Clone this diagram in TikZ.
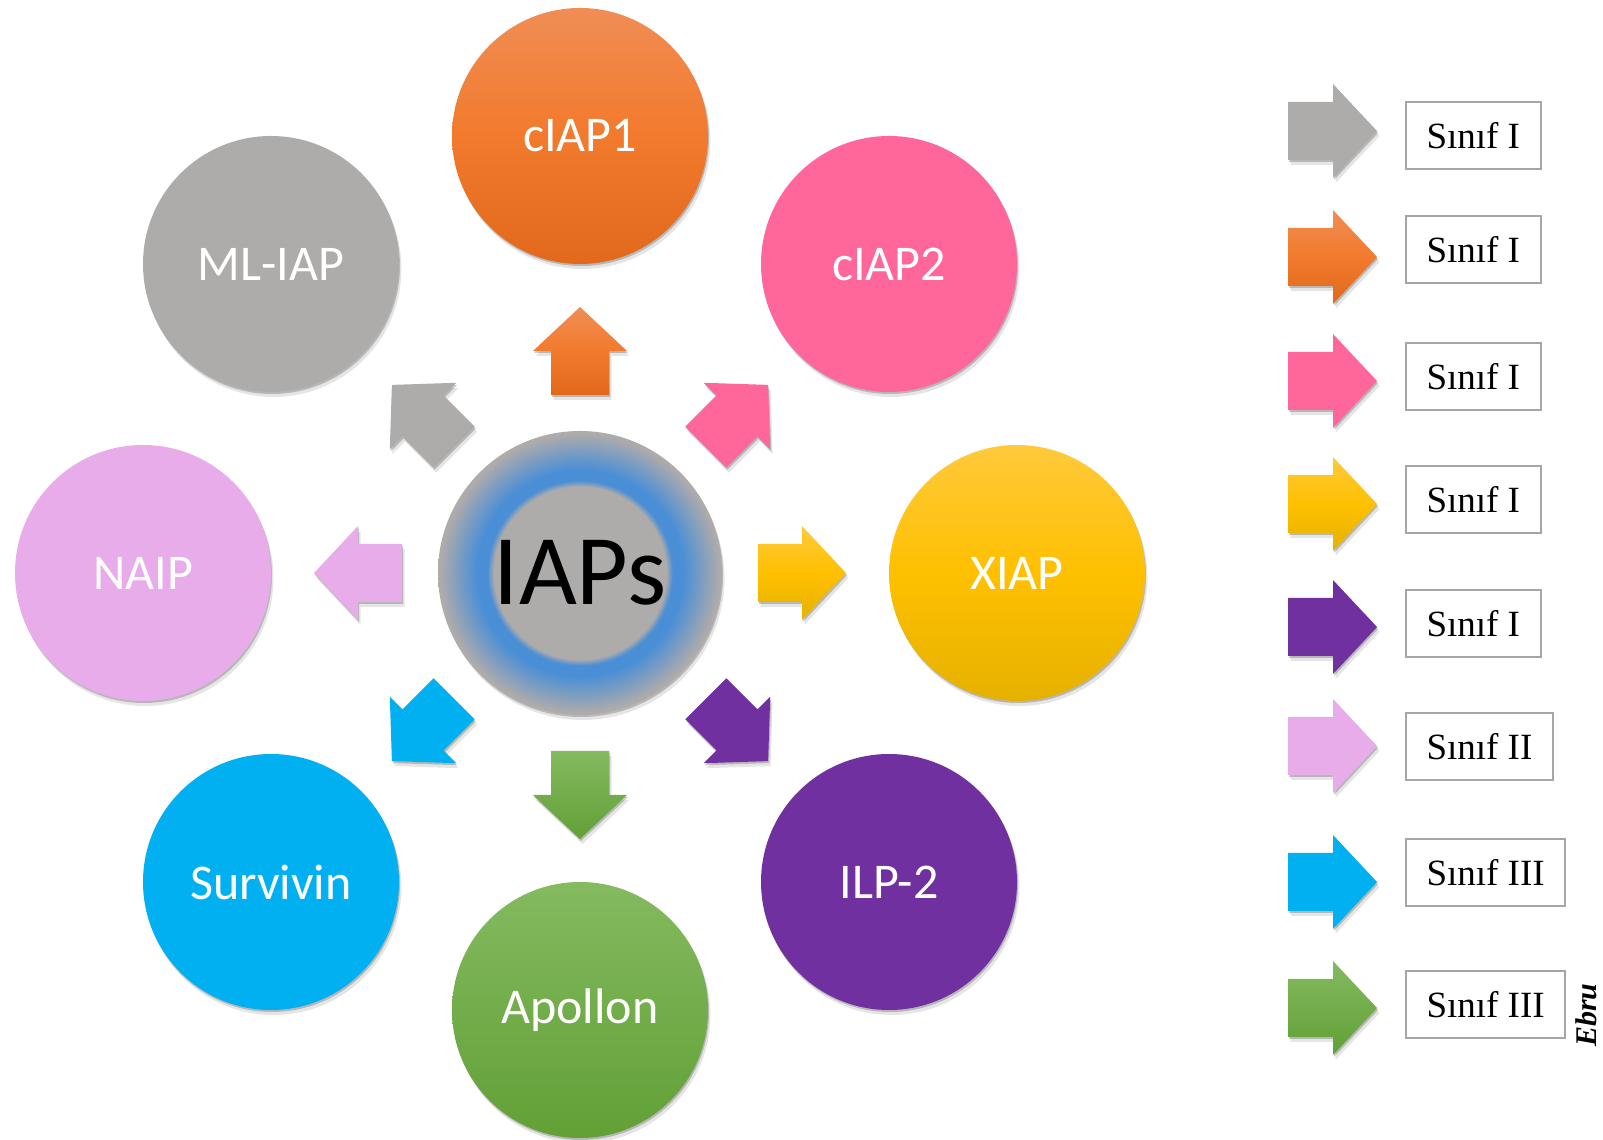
\documentclass[tikz,border=0pt]{standalone}
\usepackage{fontspec}
\setmainfont{Liberation Serif}
\newfontfamily\bubblefont{Carlito}
\usepackage{tikz}
\usepackage{xcolor}
\usetikzlibrary{calc, shadows, positioning}

\definecolor{orangetop}{HTML}{F08D55}
\definecolor{orangemid}{HTML}{F27A2C}
\definecolor{orangebot}{HTML}{E2691C}
\definecolor{iappink}{HTML}{FF6699}
\definecolor{yellowtop}{HTML}{FFC93C}
\definecolor{yellowmid}{HTML}{FFC000}
\definecolor{yellowbot}{HTML}{E5B100}
\definecolor{iappurple}{HTML}{7030A0}
\definecolor{greentop}{HTML}{84BA60}
\definecolor{greenbot}{HTML}{62A036}
\definecolor{iapcyan}{HTML}{00B0F0}
\definecolor{iaplavender}{HTML}{E8ACEA}
\definecolor{iapgray}{HTML}{AEABAB}
\definecolor{glowblue}{HTML}{4A8FD6}
\definecolor{boxgray}{HTML}{A6A6A6}

\pgfdeclareradialshading{iapglow}{\pgfpoint{0bp}{0bp}}{%
  color(0bp)=(iapgray); color(15.2bp)=(iapgray); color(16.3bp)=(glowblue);
  color(18.2bp)=(glowblue); color(24.6bp)=(iapgray); color(50bp)=(iapgray)}

\tikzset{
  softshadow/.style={drop shadow={shadow xshift=1pt, shadow yshift=-2pt, opacity=.2, fill=black},
                     drop shadow={shadow xshift=2.5pt, shadow yshift=-5pt, opacity=.1, fill=black}},
  orangefill/.style={top color=orangetop, bottom color=orangebot, middle color=orangemid},
  pinkfill/.style={fill=iappink},
  yellowfill/.style={top color=yellowtop, bottom color=yellowbot, middle color=yellowmid},
  purplefill/.style={fill=iappurple},
  greenfill/.style={top color=greentop, bottom color=greenbot},
  cyanfill/.style={fill=iapcyan},
  lavenderfill/.style={fill=iaplavender},
  grayfill/.style={fill=iapgray},
  bubble/.style={circle, minimum size=256pt, inner sep=0pt, text=white,
                 font=\bubblefont\fontsize{50}{50}\selectfont, softshadow},
  legbox/.style={draw=boxgray, line width=2pt, fill=white, minimum height=67pt,
                 inner xsep=20.5pt, anchor=west, font=\fontsize{37}{37}\selectfont}
}

\begin{document}
\begin{tikzpicture}[x=1pt, y=1pt]
  \useasboundingbox (0,0) rectangle (1603,1140);

  % === CENTRE ===
  \node[circle, minimum size=284pt, inner sep=0pt, shade, shading=iapglow, softshadow,
        font=\bubblefont\fontsize{100}{100}\selectfont] (c) at (580,567) {IAPs};

  % === RING: 8 circles + block arrows ===
  \foreach \a/\nm/\txt/\sty in {90/ciap1/cIAP1/orangefill, 45/ciap2/cIAP2/pinkfill,
      0/xiap/XIAP/yellowfill, -45/ilp2/ILP-2/purplefill, -90/apollon/Apollon/greenfill,
      -135/survivin/Survivin/cyanfill, 180/naip/NAIP/lavenderfill, 135/mliap/ML-IAP/grayfill} {
    \node[bubble, \sty] (\nm) at ($(c)+(\a:437)$) {\txt};
    \path[softshadow, \sty] ($(c)+(\a:178)+({\a+90}:29)$) -- ($(c)+(\a:222)+({\a+90}:29)$)
      -- ($(c)+(\a:222)+({\a+90}:47)$) -- ($(c)+(\a:266)$)
      -- ($(c)+(\a:222)+({\a-90}:47)$) -- ($(c)+(\a:222)+({\a-90}:29)$)
      -- ($(c)+(\a:178)+({\a-90}:29)$) -- cycle;
  }

  % === LEGEND ===
  \foreach \ya/\yb/\sty/\txt [count=\i] in {1009/1004/grayfill/Sınıf I, 883/890/orangefill/Sınıf I,
      759/763/pinkfill/Sınıf I, 636/640/yellowfill/Sınıf I, 513/516/purplefill/Sınıf I,
      394/393/lavenderfill/Sınıf II, 258/267/cyanfill/Sınıf III, 132/135/greenfill/Sınıf III} {
    \path[softshadow, \sty] (1288,\ya-29) -- (1333,\ya-29) -- (1333,\ya-47) -- (1377,\ya)
      -- (1333,\ya+47) -- (1333,\ya+29) -- (1288,\ya+29) -- cycle;
    \node[legbox] (leg\i) at (1405,\yb) {\txt};
  }

  % signature
  \node[rotate=90, font=\bfseries\itshape\fontsize{30}{30}\selectfont] (sig) at (1586,125) {Ebru};
\end{tikzpicture}
\end{document}
